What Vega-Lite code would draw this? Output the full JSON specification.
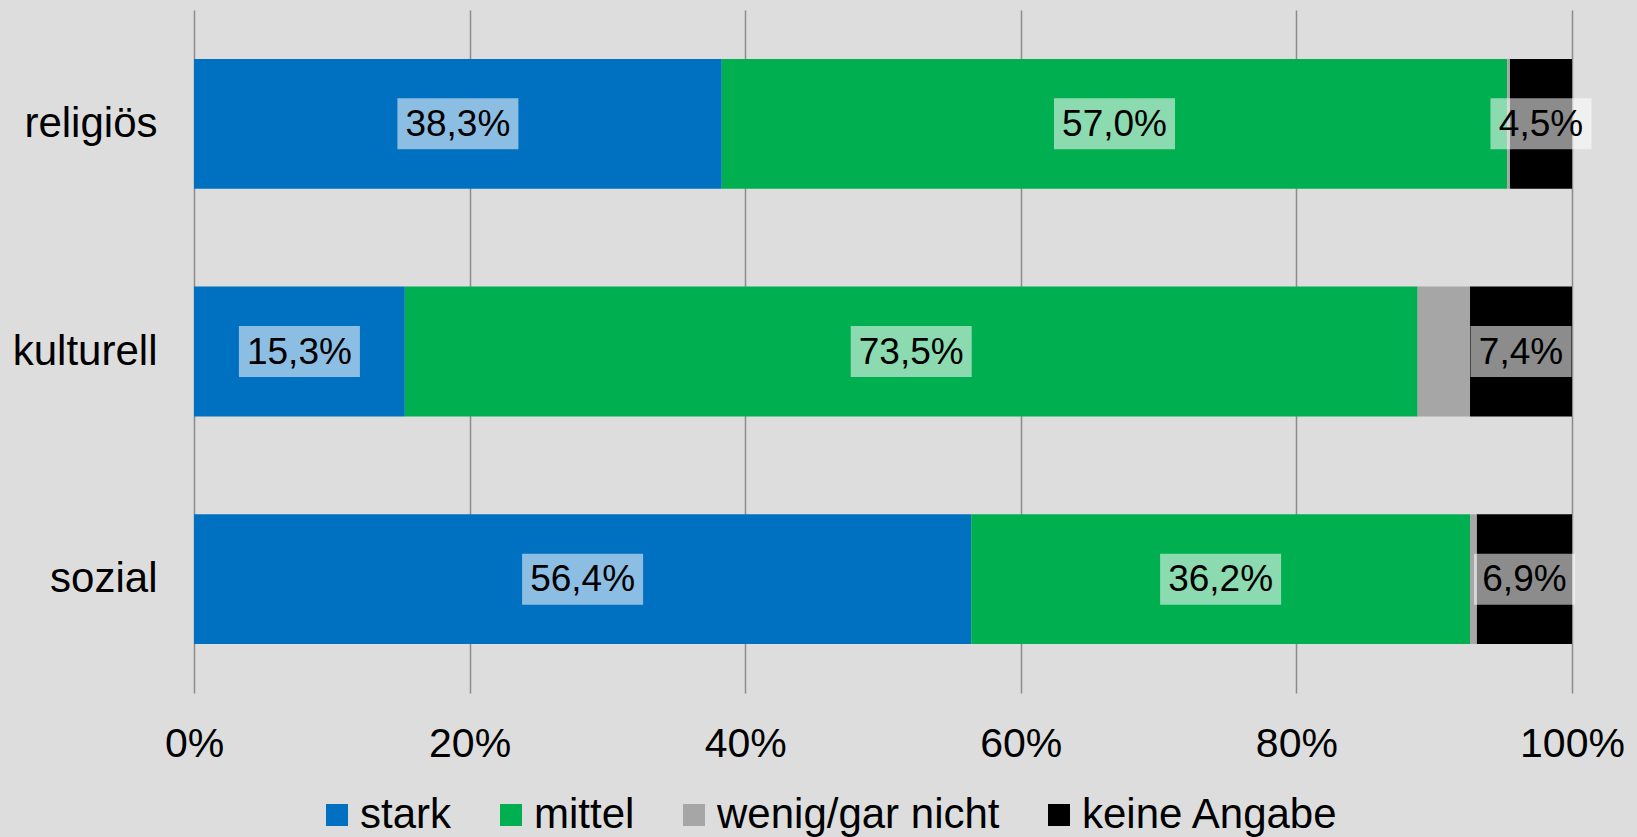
{
  "$schema": "https://vega.github.io/schema/vega-lite/v6.json",
  "width": 1378,
  "height": 683,
  "autosize": {"type": "none"},
  "padding": {"left": 194, "top": 10, "right": 65, "bottom": 144},
  "background": "#DDDDDD",
  "config": {"view": {"stroke": null}, "font": "Liberation Sans"},
  "data": {
    "values": [
      {"cat": "religiös", "s": "stark", "v": 38.3, "o": 1},
      {"cat": "religiös", "s": "mittel", "v": 57.0, "o": 2},
      {"cat": "religiös", "s": "wenig/gar nicht", "v": 0.2, "o": 3},
      {"cat": "religiös", "s": "keine Angabe", "v": 4.5, "o": 4},
      {"cat": "kulturell", "s": "stark", "v": 15.3, "o": 1},
      {"cat": "kulturell", "s": "mittel", "v": 73.5, "o": 2},
      {"cat": "kulturell", "s": "wenig/gar nicht", "v": 3.8, "o": 3},
      {"cat": "kulturell", "s": "keine Angabe", "v": 7.4, "o": 4},
      {"cat": "sozial", "s": "stark", "v": 56.4, "o": 1},
      {"cat": "sozial", "s": "mittel", "v": 36.2, "o": 2},
      {"cat": "sozial", "s": "wenig/gar nicht", "v": 0.5, "o": 3},
      {"cat": "sozial", "s": "keine Angabe", "v": 6.9, "o": 4}
    ]
  },
  "transform": [
    {"window": [{"op": "sum", "field": "v", "as": "cum"}], "groupby": ["cat"], "sort": [{"field": "o", "order": "ascending"}], "frame": [null, 0]},
    {"calculate": "datum.cum - datum.v / 2", "as": "mid"},
    {"calculate": "replace(format(datum.v, '.1f'), '.', ',') + '%'", "as": "label"}
  ],
  "encoding": {
    "y": {
      "field": "cat",
      "type": "nominal",
      "sort": ["religiös", "kulturell", "sozial"],
      "scale": {"paddingInner": 0.43, "paddingOuter": 0.215},
      "axis": {"title": null, "domain": false, "ticks": false, "grid": false, "labelFontSize": 42, "labelPadding": 37, "labelColor": "#000000", "labelFont": "Liberation Sans"}
    }
  },
  "layer": [
    {
      "mark": {"type": "bar"},
      "encoding": {
        "x": {
          "field": "v",
          "type": "quantitative",
          "stack": "zero",
          "scale": {"domain": [0, 100], "nice": false},
          "axis": {"title": null, "values": [0, 20, 40, 60, 80, 100], "labelExpr": "datum.value + '%'", "domain": false, "ticks": false, "grid": true, "gridColor": "#8C8C8C", "gridWidth": 1.5, "gridOpacity": 1, "labelFontSize": 41, "labelPadding": 31, "labelColor": "#000000", "labelFont": "Liberation Sans", "labelFlush": false}
        },
        "color": {
          "field": "s",
          "type": "nominal",
          "scale": {"domain": ["stark", "mittel", "wenig/gar nicht", "keine Angabe"], "range": ["#0070C0", "#00B050", "#A6A6A6", "#000000"]},
          "legend": {"title": null, "orient": "none", "legendX": 122, "legendY": 784, "direction": "horizontal", "symbolType": "square", "symbolSize": 484, "symbolStrokeWidth": 0, "symbolOpacity": 1, "labelFontSize": 42, "labelFont": "Liberation Sans", "labelColor": "#000000", "labelOffset": 2, "columnPadding": 38, "padding": 0, "labelLimit": 500}
        },
        "order": {"field": "o"}
      }
    },
    {
      "transform": [{"filter": "datum.s != 'wenig/gar nicht' && datum.v >= 10"}],
      "mark": {"type": "point", "shape": "M-1,-0.4215H1V0.4215H-1Z", "filled": true, "fill": "#FFFFFF", "fillOpacity": 0.55, "opacity": 1, "strokeWidth": 0, "size": 14641},
      "encoding": {"x": {"field": "mid", "type": "quantitative"}}
    },
    {
      "transform": [{"filter": "datum.s != 'wenig/gar nicht' && datum.v < 10"}],
      "mark": {"type": "point", "shape": "M-1,-0.505H1V0.505H-1Z", "filled": true, "fill": "#FFFFFF", "fillOpacity": 0.55, "opacity": 1, "strokeWidth": 0, "size": 10201},
      "encoding": {"x": {"field": "mid", "type": "quantitative"}}
    },
    {
      "transform": [{"filter": "datum.s != 'wenig/gar nicht'"}],
      "mark": {"type": "text", "fontSize": 37, "color": "#000000", "font": "Liberation Sans", "dy": 1},
      "encoding": {
        "x": {"field": "mid", "type": "quantitative"},
        "text": {"field": "label", "type": "nominal"}
      }
    }
  ]
}
